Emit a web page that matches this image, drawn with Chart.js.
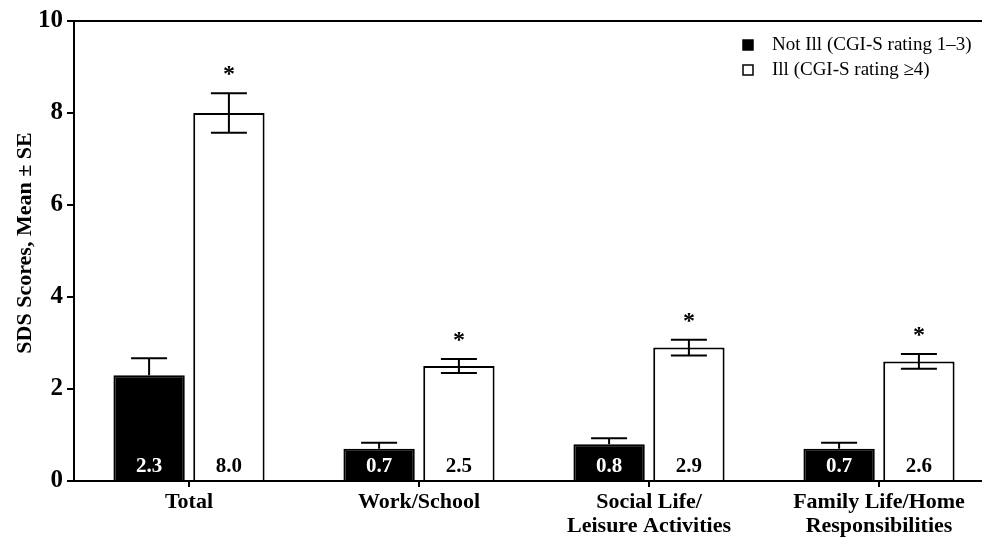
<!DOCTYPE html>
<html>
<head>
<meta charset="utf-8">
<script src="https://cdn.jsdelivr.net/npm/chart.js@4.4.1/dist/chart.umd.min.js"></script>
<style>
  html, body { margin: 0; padding: 0; background: #fff; overflow: hidden; }
  #frame { width: 982px; height: 540px; overflow: hidden; position: relative; }
  #wrap { width: 996px; height: 540px; position: absolute; left: 0; top: 0; }
</style>
</head>
<body>
<div id="frame"><div id="wrap"><canvas id="chart" width="996" height="540"></canvas></div></div>
<script>
// SDS domain scores by illness severity
const categories = ['Total', 'Work/School', ['Social Life/', 'Leisure Activities'], ['Family Life/Home', 'Responsibilities']];
const seriesNames = ['Not Ill (CGI-S rating 1\u20133)', 'Ill (CGI-S rating \u22654)'];
const notIllMean = [2.3, 0.7, 0.8, 0.7];
const notIllSE = [0.37, 0.13, 0.13, 0.13];
const illMean = [8.0, 2.5, 2.9, 2.6];
const illSE = [0.43, 0.15, 0.17, 0.16];
const significant = [true, true, true, true];
const yTicks = [0, 2, 4, 6, 8, 10];
const yTitle = 'SDS Scores, Mean \u00B1 SE';

const SERIF = '"Liberation Serif", "Times New Roman", serif';

// error bars: upper whisker only for filled bars, both for open bars
const errorBars = {
  id: 'errorBars',
  afterDatasetsDraw(chart) {
    const ctx = chart.ctx;
    const y = chart.scales.y;
    const seList = [notIllSE, illSE];
    ctx.save();
    ctx.strokeStyle = '#000';
    ctx.lineWidth = 2;
    chart.data.datasets.forEach((ds, di) => {
      const meta = chart.getDatasetMeta(di);
      meta.data.forEach((bar, i) => {
        const m = ds.data[i], se = seList[di][i];
        const top = y.getPixelForValue(m + se);
        const bot = di === 0 ? y.getPixelForValue(m) : y.getPixelForValue(m - se);
        const x = bar.x, hw = 18;
        ctx.beginPath();
        ctx.moveTo(x, top); ctx.lineTo(x, bot);
        ctx.moveTo(x - hw, top); ctx.lineTo(x + hw, top);
        if (di === 1) { ctx.moveTo(x - hw, bot); ctx.lineTo(x + hw, bot); }
        ctx.stroke();
        if (di === 1 && significant[i]) {
          ctx.fillStyle = '#000';
          ctx.font = 'bold 24px ' + SERIF;
          ctx.textAlign = 'center';
          ctx.textBaseline = 'middle';
          ctx.fillText('*', x, top - 18);
        }
      });
    });
    ctx.restore();
  }
};

// mean value printed at the foot of each bar
const valueLabels = {
  id: 'valueLabels',
  afterDatasetsDraw(chart) {
    const ctx = chart.ctx;
    const base = chart.scales.y.getPixelForValue(0);
    ctx.save();
    ctx.font = 'bold 21px ' + SERIF;
    ctx.textAlign = 'center';
    ctx.textBaseline = 'middle';
    chart.data.datasets.forEach((ds, di) => {
      chart.getDatasetMeta(di).data.forEach((bar, i) => {
        ctx.fillStyle = di === 0 ? '#fff' : '#000';
        ctx.fillText(ds.data[i].toFixed(1), bar.x, base - 14);
      });
    });
    ctx.restore();
  }
};

// vertical axis title and legend in the upper right corner
const annotations = {
  id: 'annotations',
  afterDraw(chart) {
    const ctx = chart.ctx;
    ctx.save();
    ctx.translate(25, 243);
    ctx.rotate(-Math.PI / 2);
    ctx.font = 'bold 22px ' + SERIF;
    ctx.fillStyle = '#000';
    ctx.textAlign = 'center';
    ctx.textBaseline = 'middle';
    ctx.fillText(yTitle, 0, 0);
    ctx.restore();

    ctx.save();
    ctx.font = '19px ' + SERIF;
    ctx.textBaseline = 'middle';
    ctx.textAlign = 'left';
    chart.data.datasets.forEach((ds, di) => {
      const cy = 45 + di * 25;
      ctx.fillStyle = ds.backgroundColor;
      ctx.fillRect(743, cy - 5, 10, 10);
      ctx.strokeStyle = '#000';
      ctx.lineWidth = 1.5;
      ctx.strokeRect(743, cy - 5, 10, 10);
      ctx.fillStyle = '#000';
      ctx.fillText(ds.label, 772, cy);
    });
    ctx.restore();
  }
};

new Chart(document.getElementById('chart'), {
  type: 'bar',
  data: {
    labels: categories,
    datasets: [
      { label: seriesNames[0], data: notIllMean, backgroundColor: '#000', borderColor: '#000', borderWidth: 2 },
      { label: seriesNames[1], data: illMean, backgroundColor: '#fff', borderColor: '#000', borderWidth: 2 }
    ]
  },
  options: {
    responsive: false,
    animation: false,
    devicePixelRatio: 1,
    layout: { padding: { top: 21, left: 0, right: 2, bottom: 0 } },
    datasets: { bar: { categoryPercentage: 0.694, barPercentage: 0.894 } },
    plugins: { legend: { display: false }, tooltip: { enabled: false } },
    scales: {
      x: {
        afterFit(scale) { scale.height = 59; },
        grid: { display: true, drawOnChartArea: false, offset: false, tickLength: 6, tickColor: '#000', lineWidth: 2 },
        border: { display: true, color: '#000', width: 2 },
        ticks: { color: '#000', font: { family: SERIF, size: 22, weight: 'bold', lineHeight: 1.1 }, padding: 3, maxRotation: 0, autoSkip: false }
      },
      y: {
        min: 0, max: 10,
        afterFit(scale) { scale.width = 74; },
        afterBuildTicks(scale) { scale.ticks = yTicks.map(v => ({ value: v })); },
        grid: {
          drawOnChartArea: true, tickLength: 7, tickColor: '#000', lineWidth: 2,
          color: c => (c.tick && c.tick.value === 10 ? '#000' : 'rgba(0,0,0,0)')
        },
        border: { display: true, color: '#000', width: 2 },
        ticks: { color: '#000', font: { family: SERIF, size: 25, weight: 'bold' }, padding: 4 },
        title: { display: false }
      }
    }
  },
  plugins: [errorBars, valueLabels, annotations]
});
</script>
</body>
</html>
